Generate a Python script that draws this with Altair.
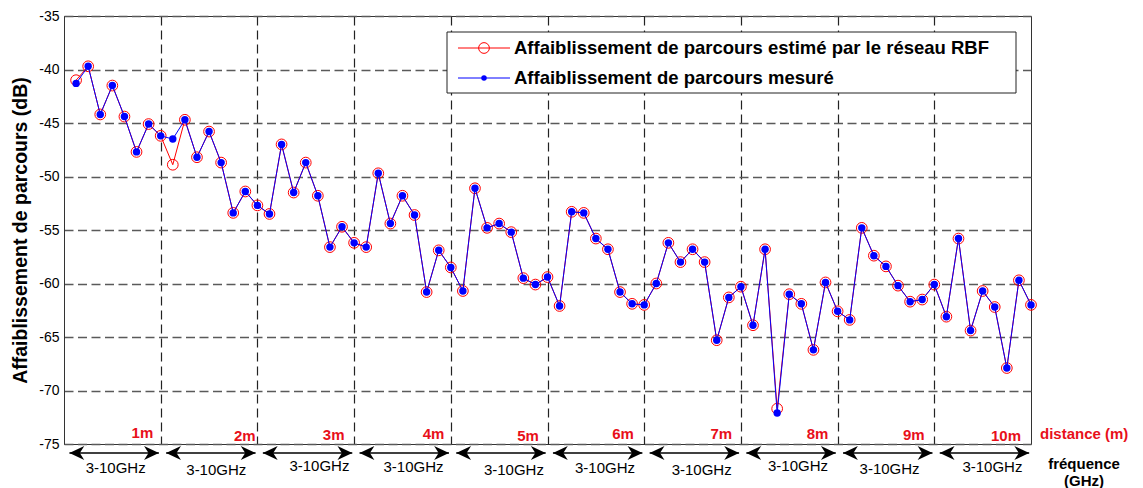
import altair as alt
import pandas as pd

# ---------------- data ----------------
distance_labels = ["1m", "2m", "3m", "4m", "5m", "6m", "7m", "8m", "9m", "10m"]
band_label = "3-10GHz"
sample_index = list(range(1, 81))
measured = [
    -41.3, -39.7, -44.2, -41.5, -44.4, -47.7, -45.1, -46.2,
    -46.5, -44.7, -48.2, -45.8, -48.7, -53.4, -51.4, -52.7,
    -53.5, -47.0, -51.5, -48.7, -51.8, -56.6, -54.7, -56.2,
    -56.6, -49.7, -54.4, -51.8, -53.6, -60.8, -56.9, -58.5,
    -60.7, -51.1, -54.8, -54.4, -55.2, -59.5, -60.1, -59.4,
    -62.1, -53.3, -53.4, -55.8, -56.8, -60.8, -61.9, -62.0,
    -60.0, -56.2, -58.0, -56.8, -58.0, -65.3, -61.3, -60.3,
    -63.9, -56.8, -72.1, -61.0, -61.9, -66.2, -59.9, -62.6,
    -63.4, -54.8, -57.4, -58.4, -60.2, -61.7, -61.5, -60.1,
    -63.1, -55.8, -64.4, -60.7, -62.2, -67.9, -59.7, -62.0,
]
estimated = [
    -41.0, -39.7, -44.2, -41.5, -44.4, -47.7, -45.1, -46.2,
    -48.9, -44.7, -48.2, -45.8, -48.7, -53.4, -51.4, -52.7,
    -53.5, -47.0, -51.5, -48.7, -51.8, -56.6, -54.7, -56.2,
    -56.6, -49.7, -54.4, -51.8, -53.6, -60.8, -56.9, -58.5,
    -60.7, -51.1, -54.8, -54.4, -55.2, -59.5, -60.1, -59.4,
    -62.1, -53.3, -53.4, -55.8, -56.8, -60.8, -61.9, -62.0,
    -60.0, -56.2, -58.0, -56.8, -58.0, -65.3, -61.3, -60.3,
    -63.9, -56.8, -71.7, -61.0, -61.9, -66.2, -59.9, -62.6,
    -63.4, -54.8, -57.4, -58.4, -60.2, -61.7, -61.5, -60.1,
    -63.1, -55.8, -64.4, -60.7, -62.2, -67.9, -59.7, -62.0,
]
y_ticks = [-35, -40, -45, -50, -55, -60, -65, -70, -75]
segment_bounds = [8, 16, 24, 32, 40, 48, 56, 64, 72]
legend_labels = [
    "Affaiblissement de parcours estimé par le réseau RBF",
    "Affaiblissement de parcours mesuré",
]

# ---------------- layout helpers ----------------
W, H = 967, 428
LEFT, TOP = 64, 16
PX = W / 80.0
FONT = "Liberation Sans"
RED = "#ff0000"
BLUE = "#0000ff"


def x_of(px):
    return (px - LEFT) / PX


def y_of(py):
    return -35 - (py - TOP) * 40.0 / H


df = pd.DataFrame({"i": sample_index, "measured": measured, "estimated": estimated})

xs = alt.Scale(domain=[0, 80], nice=False, zero=False)
ys = alt.Scale(domain=[-75, -35], nice=False, zero=False)

x_axis = alt.Axis(values=segment_bounds, labels=False, ticks=False, domain=False,
                  grid=True, gridColor="#222222", gridDash=[9, 5], gridWidth=1.2,
                  title=None)
y_axis = alt.Axis(values=y_ticks, labelExpr="toString(datum.value)",
                  labelFont=FONT, labelFontSize=14, labelColor="black",
                  labelPadding=5, ticks=False, tickSize=0,
                  domain=True, domainColor="#333333", domainWidth=1,
                  grid=True, gridColor="#5a5a5a", gridDash=[9, 4.5], gridWidth=1.4,
                  title="Affaiblissement de parcours (dB)", titleFont=FONT,
                  titleFontSize=19.5, titleFontWeight="bold", titleColor="black",
                  titleAngle=-90, titleX=-44, titleY=H / 2,
                  titleAlign="center", titleBaseline="middle")


def X(field):
    return alt.X(field, type="quantitative", scale=xs, axis=x_axis)


def Y(field):
    return alt.Y(field, type="quantitative", scale=ys, axis=y_axis)


base = alt.Chart(df)
red_line = base.mark_line(color=RED, strokeWidth=1).encode(x=X("i"), y=Y("estimated"))
red_pts = base.mark_point(shape="circle", size=115, filled=False, color=RED,
                          strokeWidth=1, opacity=1).encode(x=X("i"), y=Y("estimated"))
blue_line = base.mark_line(color=BLUE, strokeWidth=1).encode(x=X("i"), y=Y("measured"))
blue_pts = base.mark_point(shape="circle", size=55, filled=True, color=BLUE,
                           opacity=1).encode(x=X("i"), y=Y("measured"))

# ---------------- annotations under / inside the plot ----------------
gaps = [7.4, 1.8, 9.6, 6.4, 8.6, 10.3, 8.8, 9.2, 9.6, 10.0]
dist_y = [432.5, 436, 434.7, 433.5, 436, 433.5, 433.5, 433.5, 435, 436]
dist_df = pd.DataFrame({
    "label": distance_labels,
    "i": [8 * (k + 1) - gaps[k] / PX for k in range(10)],
    "measured": [y_of(v) for v in dist_y],
})
dist_text = alt.Chart(dist_df).mark_text(
    align="right", baseline="middle", font=FONT, fontSize=15,
    fontWeight="bold", color="#e8101a").encode(
    x=X("i"), y=Y("measured"), text="label:N")

band_px = [115.7, 216.3, 319.4, 413.5, 513.9, 605.0, 701.7, 798.0, 889.6, 992.4]
band_py = [468, 470, 466, 467, 470, 468, 470, 466, 468.5, 467]
band_df = pd.DataFrame({
    "label": [band_label] * 10,
    "i": [x_of(v) for v in band_px],
    "measured": [y_of(v) for v in band_py],
})
band_text = alt.Chart(band_df).mark_text(
    align="center", baseline="middle", font=FONT, fontSize=15,
    color="black").encode(x=X("i"), y=Y("measured"), text="label:N")

arrow_df = pd.DataFrame({
    "i": [8 * k + 0.45 for k in range(10)],
    "end": [8 * k + 7.85 for k in range(10)],
})
ARROW_Y = 453 - TOP
arrow_shaft = alt.Chart(arrow_df).mark_rule(color="black", strokeWidth=1.6).encode(
    x=X("i"), x2="end:Q", y=alt.value(ARROW_Y))
LEFT_HEAD = "M0,0 L2,-0.95 L1.4,0 L2,0.95 Z"
RIGHT_HEAD = "M0,0 L-2,-0.95 L-1.4,0 L-2,0.95 Z"
arrow_left = alt.Chart(arrow_df).mark_point(
    shape=LEFT_HEAD, size=220, filled=True, color="black", opacity=1,
    strokeWidth=0).encode(x=X("i"), y=alt.value(ARROW_Y))
arrow_right = alt.Chart(arrow_df).mark_point(
    shape=RIGHT_HEAD, size=220, filled=True, color="black", opacity=1,
    strokeWidth=0).encode(x=X("end"), y=alt.value(ARROW_Y))

one = pd.DataFrame({"a": [0]})
dist_title = alt.Chart(one).mark_text(
    align="left", baseline="middle", font=FONT, fontSize=15, fontWeight="bold",
    color="#e8101a", text="distance (m)").encode(
    x=alt.value(1040 - LEFT), y=alt.value(434 - TOP))
freq_title1 = alt.Chart(one).mark_text(
    align="center", baseline="middle", font=FONT, fontSize=15, fontWeight="bold",
    color="black", text="fréquence").encode(
    x=alt.value(1084 - LEFT), y=alt.value(464 - TOP))
freq_title2 = alt.Chart(one).mark_text(
    align="center", baseline="middle", font=FONT, fontSize=15, fontWeight="bold",
    color="black", text="(GHz)").encode(
    x=alt.value(1084 - LEFT), y=alt.value(481 - TOP))

# ---------------- legend ----------------
LX0, LX1, LY0, LY1 = 447 - LEFT, 1016 - LEFT, 32 - TOP, 93 - TOP
ROW1, ROW2 = 48 - TOP, 78 - TOP
legend_box = alt.Chart(one).mark_rect(fill="white", stroke="#222222",
                                      strokeWidth=1).encode(
    x=alt.value(LX0), x2=alt.value(LX1), y=alt.value(LY0), y2=alt.value(LY1))
leg_red_line = alt.Chart(one).mark_rule(color=RED, strokeWidth=1).encode(
    x=alt.value(458 - LEFT), x2=alt.value(510 - LEFT), y=alt.value(ROW1))
leg_red_pt = alt.Chart(one).mark_point(shape="circle", size=115, filled=False,
                                       color=RED, strokeWidth=1, opacity=1).encode(
    x=alt.value(484 - LEFT), y=alt.value(ROW1))
leg_blue_line = alt.Chart(one).mark_rule(color=BLUE, strokeWidth=1).encode(
    x=alt.value(458 - LEFT), x2=alt.value(510 - LEFT), y=alt.value(ROW2))
leg_blue_pt = alt.Chart(one).mark_point(shape="circle", size=30, filled=True,
                                        color=BLUE, opacity=1).encode(
    x=alt.value(484 - LEFT), y=alt.value(ROW2))
leg_text1 = alt.Chart(one).mark_text(
    align="left", baseline="middle", font=FONT, fontSize=18.5, fontWeight="bold",
    color="black", text=legend_labels[0]).encode(
    x=alt.value(514 - LEFT), y=alt.value(ROW1))
leg_text2 = alt.Chart(one).mark_text(
    align="left", baseline="middle", font=FONT, fontSize=18.5, fontWeight="bold",
    color="black", text=legend_labels[1]).encode(
    x=alt.value(514 - LEFT), y=alt.value(ROW2))

chart = alt.layer(
    red_line, red_pts, blue_line, blue_pts,
    dist_text, band_text, arrow_shaft, arrow_left, arrow_right,
    dist_title, freq_title1, freq_title2,
    legend_box, leg_red_line, leg_red_pt, leg_blue_line, leg_blue_pt,
    leg_text1, leg_text2,
).properties(
    width=W, height=H,
    padding={"left": LEFT - 8, "top": TOP - 8, "right": 104, "bottom": 44},
    autosize=alt.AutoSizeParams(type="none"),
    background="white",
).configure_view(stroke="#333333", strokeWidth=1)

chart.save("out.html", embed_options={"renderer": "svg", "actions": False})
